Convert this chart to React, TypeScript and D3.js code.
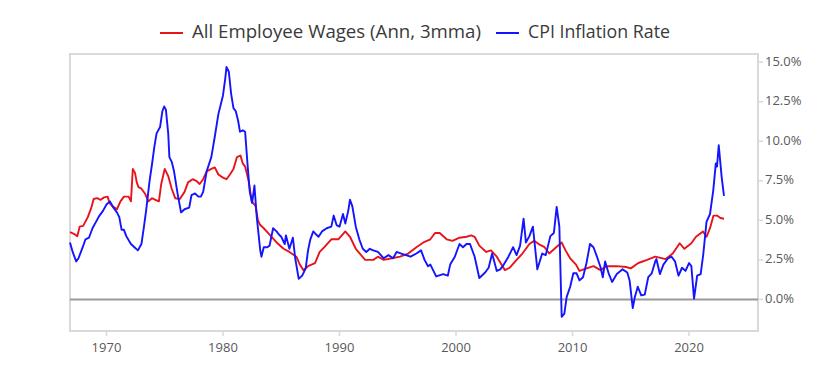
import React from 'react';
import * as d3 from 'd3';

const wageSeries: [number, number][] = [
  [1966.87, 4.25], [1967.2, 4.15], [1967.5, 4.0], [1967.7, 4.6], [1968.0, 4.65], [1968.4, 5.2],
  [1968.7, 5.8], [1968.9, 6.35], [1969.2, 6.4], [1969.5, 6.3], [1969.8, 6.45], [1970.1, 6.5],
  [1970.26, 6.1], [1970.5, 5.9], [1970.9, 5.7], [1971.2, 6.2], [1971.5, 6.5], [1971.9, 6.5],
  [1972.1, 6.2], [1972.26, 8.25], [1972.45, 8.0], [1972.6, 7.4], [1972.75, 7.1], [1973.0, 7.0],
  [1973.3, 6.7], [1973.6, 6.2], [1973.9, 6.4], [1974.2, 6.3], [1974.5, 6.2], [1974.7, 7.3],
  [1975.0, 8.25], [1975.3, 7.8], [1975.6, 7.0], [1975.9, 6.4], [1976.3, 6.35], [1976.7, 6.8],
  [1977.0, 7.4], [1977.4, 7.6], [1977.7, 7.5], [1978.0, 7.3], [1978.3, 7.6], [1978.6, 8.1],
  [1979.0, 8.25], [1979.3, 8.35], [1979.6, 7.9], [1980.0, 7.7], [1980.3, 7.6], [1980.6, 7.9],
  [1980.9, 8.25], [1981.2, 9.0], [1981.5, 9.1], [1981.7, 8.6], [1981.9, 8.4], [1982.2, 7.5],
  [1982.47, 6.2], [1982.8, 5.9], [1983.0, 5.0], [1983.2, 4.7], [1983.5, 4.5], [1984.0, 4.1],
  [1984.6, 3.6], [1985.2, 3.2], [1985.7, 3.0], [1986.3, 2.7], [1986.6, 2.2], [1986.9, 1.85],
  [1987.3, 2.1], [1987.9, 2.3], [1988.3, 3.0], [1988.7, 3.3], [1989.3, 3.8], [1989.9, 3.8],
  [1990.5, 4.3], [1990.9, 3.96], [1991.4, 3.2], [1992.2, 2.5], [1992.9, 2.5], [1993.3, 2.7],
  [1993.8, 2.5], [1994.5, 2.6], [1995.2, 2.7], [1995.9, 2.9], [1996.6, 3.3], [1997.2, 3.6],
  [1997.8, 3.8], [1998.2, 4.2], [1998.6, 4.2], [1999.2, 3.8], [1999.7, 3.7], [2000.3, 3.9],
  [2000.9, 3.96], [2001.3, 4.05], [2001.6, 3.96], [2002.0, 3.4], [2002.6, 3.0], [2003.0, 3.1],
  [2003.5, 2.7], [2003.9, 2.2], [2004.2, 1.85], [2004.6, 2.0], [2005.2, 2.5], [2005.7, 2.9],
  [2006.3, 3.5], [2006.7, 3.7], [2007.1, 3.5], [2007.6, 3.3], [2008.0, 2.9], [2008.6, 3.3],
  [2009.07, 3.6], [2009.4, 3.1], [2009.8, 2.6], [2010.3, 2.2], [2010.6, 1.8], [2011.2, 1.96],
  [2011.8, 2.1], [2012.4, 1.85], [2012.9, 2.1], [2013.8, 2.1], [2014.6, 2.05], [2015.0, 1.96],
  [2015.65, 2.3], [2016.4, 2.5], [2017.1, 2.7], [2018.0, 2.55], [2018.6, 2.9], [2019.2, 3.55],
  [2019.6, 3.2], [2020.2, 3.55], [2020.6, 3.96], [2021.2, 4.3], [2021.5, 3.96], [2021.8, 4.5],
  [2022.1, 5.3], [2022.4, 5.3], [2022.7, 5.15], [2023.0, 5.1],
];

const cpiSeries: [number, number][] = [
  [1966.87, 3.6], [1967.1, 3.0], [1967.4, 2.4], [1967.6, 2.6], [1967.96, 3.3], [1968.2, 3.8],
  [1968.5, 3.9], [1968.8, 4.5], [1969.1, 4.9], [1969.4, 5.3], [1969.7, 5.6], [1970.0, 6.0],
  [1970.3, 6.2], [1970.6, 5.8], [1970.9, 5.5], [1971.1, 5.2], [1971.3, 4.4], [1971.5, 4.4],
  [1971.7, 4.0], [1972.1, 3.5], [1972.4, 3.3], [1972.7, 3.1], [1973.0, 3.5], [1973.2, 4.5],
  [1973.4, 5.6], [1973.7, 7.5], [1973.9, 8.5], [1974.1, 9.6], [1974.3, 10.5], [1974.6, 10.9],
  [1974.8, 11.9], [1974.95, 12.2], [1975.1, 12.0], [1975.3, 10.5], [1975.4, 9.0], [1975.6, 8.7],
  [1975.8, 8.1], [1976.1, 6.7], [1976.4, 5.5], [1976.7, 5.7], [1977.1, 5.8], [1977.3, 6.6],
  [1977.6, 6.7], [1977.9, 6.5], [1978.1, 6.5], [1978.3, 6.8], [1978.6, 8.1], [1979.0, 9.0],
  [1979.3, 10.3], [1979.6, 11.7], [1980.0, 12.9], [1980.2, 14.0], [1980.3, 14.7], [1980.5, 14.4],
  [1980.7, 13.0], [1980.9, 12.1], [1981.1, 11.9], [1981.3, 11.3], [1981.46, 10.6], [1981.7, 10.7],
  [1981.9, 10.6], [1982.1, 8.6], [1982.3, 6.8], [1982.5, 6.1], [1982.7, 7.2], [1982.9, 5.2],
  [1983.2, 3.1], [1983.3, 2.7], [1983.5, 3.3], [1983.8, 3.3], [1984.0, 3.4], [1984.3, 4.5],
  [1984.6, 4.3], [1984.8, 4.1], [1985.0, 3.96], [1985.3, 3.5], [1985.4, 4.05], [1985.7, 3.2],
  [1986.0, 3.9], [1986.2, 2.6], [1986.5, 1.3], [1986.8, 1.5], [1987.1, 1.96], [1987.3, 3.1],
  [1987.5, 3.8], [1987.75, 4.3], [1988.0, 4.1], [1988.2, 3.96], [1988.5, 4.3], [1988.9, 4.5],
  [1989.3, 4.6], [1989.5, 5.3], [1989.75, 4.7], [1990.0, 4.6], [1990.3, 5.4], [1990.5, 4.8],
  [1990.75, 5.6], [1990.9, 6.3], [1991.1, 5.9], [1991.4, 4.6], [1991.7, 3.8], [1992.0, 3.2],
  [1992.3, 3.0], [1992.6, 3.2], [1992.9, 3.1], [1993.3, 3.0], [1993.8, 2.6], [1994.2, 2.8],
  [1994.6, 2.6], [1994.9, 3.0], [1995.3, 2.9], [1995.7, 2.8], [1996.1, 2.7], [1996.6, 2.9],
  [1997.0, 3.1], [1997.3, 2.5], [1997.6, 2.1], [1997.8, 2.2], [1998.3, 1.45], [1998.9, 1.6],
  [1999.3, 1.5], [1999.5, 2.2], [1999.9, 2.7], [2000.3, 3.5], [2000.6, 3.3], [2000.9, 3.5],
  [2001.2, 3.5], [2001.6, 2.7], [2002.0, 1.35], [2002.5, 1.7], [2002.8, 2.0], [2003.1, 2.9],
  [2003.5, 1.8], [2003.8, 1.9], [2004.1, 2.2], [2004.5, 2.7], [2004.9, 3.3], [2005.2, 2.8],
  [2005.5, 3.4], [2005.8, 5.1], [2006.0, 3.6], [2006.3, 4.0], [2006.6, 4.6], [2006.98, 1.9],
  [2007.4, 2.9], [2007.7, 2.8], [2008.1, 4.0], [2008.4, 4.2], [2008.64, 5.85], [2008.87, 4.6],
  [2009.07, -1.1], [2009.3, -0.9], [2009.5, 0.16], [2009.8, 0.8], [2010.07, 1.65], [2010.35, 1.65],
  [2010.6, 1.2], [2010.9, 1.4], [2011.2, 2.3], [2011.5, 3.5], [2011.8, 3.3], [2012.1, 2.7],
  [2012.4, 2.05], [2012.6, 1.4], [2012.8, 2.4], [2013.1, 1.65], [2013.4, 1.1], [2013.8, 1.6],
  [2014.3, 1.9], [2014.7, 1.7], [2014.9, 1.2], [2015.17, -0.55], [2015.35, 0.15], [2015.6, 0.8],
  [2015.9, 0.25], [2016.2, 0.3], [2016.5, 1.4], [2016.8, 1.65], [2017.1, 2.4], [2017.2, 2.55],
  [2017.5, 1.6], [2017.8, 2.2], [2018.2, 2.6], [2018.5, 2.7], [2018.8, 2.4], [2019.1, 1.5],
  [2019.4, 2.0], [2019.7, 1.8], [2020.0, 2.3], [2020.2, 2.1], [2020.43, 0.05], [2020.7, 1.5],
  [2021.0, 1.6], [2021.23, 2.9], [2021.5, 4.9], [2021.8, 5.4], [2022.08, 6.9], [2022.3, 8.6],
  [2022.4, 8.4], [2022.55, 9.75], [2022.8, 7.75], [2023.0, 6.55],
];

const xTickYears = [1970, 1980, 1990, 2000, 2010, 2020];
const yTickValues = [0, 2.5, 5, 7.5, 10, 12.5, 15];
const seriesLabels = ['All Employee Wages (Ann, 3mma)', 'CPI Inflation Rate'];
const seriesColors = ['#e8141c', '#1414ff'];

export default function App() {
  const W = 840;
  const H = 375;
  const left = 70, right = 758, top = 54, bottom = 331;
  const x = d3.scaleLinear().domain([1966.87, 2025.92]).range([left, right]);
  const y = d3.scaleLinear().domain([-2, 15.52]).range([bottom, top]);
  const line = d3.line<[number, number]>().x(d => x(d[0])).y(d => y(d[1]));
  const fmt = d3.format('.1f');
  const font = '"Open Sans", "Noto Sans", sans-serif';

  return (
    <svg width={W} height={H} style={{ position: 'absolute', left: 0, top: 0, background: '#fff' }}>
      <rect x={left} y={top} width={right - left} height={bottom - top} fill="none" stroke="#d9d9d9" strokeWidth={2} />
      {xTickYears.map(t => (
        <g key={t}>
          <line x1={x(t)} x2={x(t)} y1={bottom} y2={bottom + 5} stroke="#d9d9d9" strokeWidth={1.5} />
          <text x={x(t)} y={bottom + 18} textAnchor="middle" dominantBaseline="middle" fontFamily={font} fontSize={13} fill="#595959">{t}</text>
        </g>
      ))}
      {yTickValues.map(t => (
        <g key={t}>
          <line x1={right} x2={right + 5} y1={y(t)} y2={y(t)} stroke="#d9d9d9" strokeWidth={1.5} />
          <text x={right + 7} y={y(t)} dominantBaseline="middle" fontFamily={font} fontSize={13} fill="#595959">{fmt(t)}%</text>
        </g>
      ))}
      <line x1={left} x2={right} y1={y(0)} y2={y(0)} stroke="#999" strokeWidth={2} />
      <path d={line(wageSeries) || ''} fill="none" stroke={seriesColors[0]} strokeWidth={1.9} strokeLinejoin="round" />
      <path d={line(cpiSeries) || ''} fill="none" stroke={seriesColors[1]} strokeWidth={1.9} strokeLinejoin="round" />
      <g fontFamily={font} fontSize={18} fill="#3a3a3a">
        <line x1={160} x2={183} y1={33} y2={33} stroke={seriesColors[0]} strokeWidth={2} />
        <text x={192} y={33} dominantBaseline="middle" textLength={289} lengthAdjust="spacingAndGlyphs">{seriesLabels[0]}</text>
        <line x1={496} x2={519} y1={33} y2={33} stroke={seriesColors[1]} strokeWidth={2} />
        <text x={528} y={33} dominantBaseline="middle" textLength={142} lengthAdjust="spacingAndGlyphs">{seriesLabels[1]}</text>
      </g>
    </svg>
  );
}
